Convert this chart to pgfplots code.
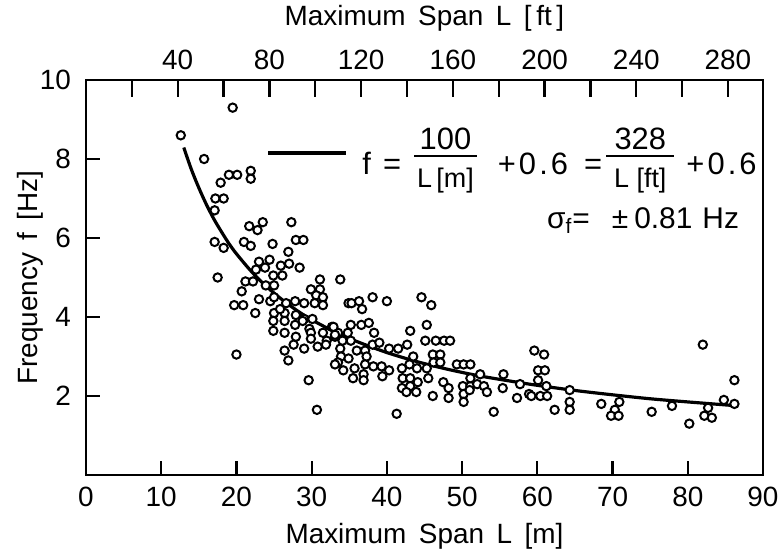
\documentclass[border=0pt]{standalone}
\usepackage{amsmath}
\usepackage{fontspec}
\setmainfont{Liberation Sans}
\usepackage{pgfplots}
\pgfplotsset{compat=1.18}

\newcommand{\bigf}{\fontsize{14}{16}\selectfont}
\newcommand{\legf}{\fontsize{15.5}{17}\selectfont}
\newcommand{\midf}{\fontsize{15.5}{17}\selectfont\addfontfeatures{LetterSpace=10}}
\newcommand{\denf}{\fontsize{13.5}{15}\selectfont}
\newcommand{\gap}{\hspace{0.45em}}
% fraction with numerator over a thick bar and a smaller denominator
\newcommand{\fr}[3][1.5bp]{\raisebox{3.5bp}{$\vcenter{\hbox{\renewcommand{\arraystretch}{0}\setlength{\arrayrulewidth}{1.3pt}%
  \begin{tabular}{@{\hspace{#1}}c@{\hspace{#1}}}\rule[-2.5bp]{0pt}{0pt}#2\\\hline
  \rule{0pt}{15bp}\denf #3\end{tabular}}}$}}

\begin{document}
\begin{tikzpicture}
% top axis in feet (ticks only)
\begin{axis}[
    scale only axis,
    width=338.5bp, height=197.5bp,
    xmin=0, xmax=295.28, ymin=0, ymax=10,
    axis x line*=top, axis y line=none,
    axis line style={line width=1.2pt, -},
    tick align=inside,
    xtick={40,80,...,280},
    minor xtick={20,60,...,260},
    major tick length=8.5bp, minor tick length=8.5bp,
    every tick/.style={black, line width=1.1pt},
    minor tick style={black, line width=1.1pt},
    xlabel={Maximum\gap Span\gap L\gap [\,ft\,]},
    xlabel style={at={(axis description cs:0.5,1)}, anchor=center, yshift=31bp},
    xticklabel shift=1.5bp,
    label style={font=\bigf},
    tick label style={font=\bigf},
    /pgf/number format/assume math mode=true,
]
\end{axis}
% main axis in metres
\begin{axis}[
    name=main,
    scale only axis,
    width=338.5bp, height=197.5bp,
    xmin=0, xmax=90, ymin=0, ymax=10,
    axis line style={line width=1.2pt},
    tick align=inside,
    xtick pos=bottom, ytick pos=left,
    xtick={0,10,...,90},
    ytick={2,4,6,8,10},
    major tick length=7bp,
    every tick/.style={black, line width=1.1pt},
    xlabel={Maximum\gap Span\gap L\gap [m]},
    ylabel={Frequency\gap f\gap [Hz]},
    xlabel style={at={(axis description cs:0.5,0)}, anchor=center, yshift=-30.5bp},
    ylabel style={at={(axis description cs:-0.0827,0.5)}, anchor=center},
    xticklabel shift=2.5bp,
    yticklabel shift=4bp,
    label style={font=\bigf},
    tick label style={font=\bigf},
    /pgf/number format/assume math mode=true,
    legend style={draw=none, fill=none, inner xsep=0pt, inner ysep=0pt,
        at={(axis description cs:0.266,0.815)}, anchor=west, font=\legf},
    legend cell align=left,
    legend image code/.code={\draw[line width=2pt] (0bp,0bp) -- (39bp,0bp);},
]

% measured points
\addplot[only marks, mark=*, mark size=2.1pt,
    mark options={fill=white, draw=black, line width=1pt}, forget plot]
coordinates {
(19.5,9.3) (12.6,8.6) (15.7,8.0) (19.0,7.6) (20.1,7.6)
(21.9,7.7) (21.9,7.5) (17.9,7.4) (17.2,7.0) (18.3,7.0)
(17.1,6.7) (21.7,6.3) (23.5,6.4) (22.8,6.2) (27.3,6.4)
(17.1,5.9) (18.3,5.75) (21.0,5.9) (21.9,5.8) (24.8,5.85)
(27.9,5.95) (28.9,5.95) (26.9,5.65) (23.0,5.4) (24.4,5.45)
(25.9,5.3) (27.0,5.35) (28.4,5.25) (22.6,5.2) (23.8,5.25)
(24.9,5.05) (26.1,5.05) (17.5,5.0) (21.2,4.9) (22.2,4.9)
(23.9,4.8) (25.0,4.8) (31.1,4.95) (33.8,4.95) (29.9,4.7)
(31.1,4.7) (20.7,4.65) (30.6,4.55) (31.5,4.5) (23.0,4.45)
(24.5,4.4) (25.0,4.5) (19.7,4.3) (20.9,4.3) (26.6,4.35)
(27.8,4.4) (29.0,4.35) (30.4,4.35) (31.5,4.3) (34.9,4.35)
(22.5,4.1) (25.0,4.1) (26.4,4.1) (25.8,4.2) (27.9,4.05)
(29.0,3.95) (30.1,3.95) (24.9,3.9) (26.4,3.9) (27.8,3.8)
(28.8,3.9) (29.7,3.7) (29.9,3.6) (31.5,3.6) (32.7,3.75)
(33.5,3.6) (34.8,3.6) (24.9,3.65) (26.4,3.6) (27.9,3.5)
(29.9,3.45) (32.0,3.4) (33.1,3.5) (27.6,3.3) (29.0,3.2)
(30.8,3.25) (31.9,3.3) (26.4,3.15) (26.9,2.9) (33.8,3.2)
(33.9,3.0) (33.5,2.85) (34.2,2.65) (33.1,2.8) (34.9,2.95)
(20.0,3.05) (29.6,2.4) (30.7,1.65)
(35.3,4.35) (36.3,4.4) (36.7,4.2) (38.1,4.5) (40.0,4.4)
(44.6,4.5) (45.9,4.3) (32.9,3.75) (35.2,3.8) (36.6,3.8)
(37.6,3.85) (38.3,3.6) (43.1,3.65) (45.3,3.8) (45.1,3.4)
(46.5,3.4) (47.6,3.4) (48.4,3.4) (33.1,3.55) (34.1,3.4)
(35.2,3.4) (38.1,3.3) (39.0,3.35) (36.0,3.15) (37.1,3.15)
(40.3,3.2) (41.5,3.2) (42.7,3.3) (43.5,3.0) (46.1,3.05)
(47.1,3.05) (46.2,2.85) (47.1,2.85) (37.3,3.0) (37.1,2.8)
(38.2,2.75) (39.3,2.75) (40.3,2.65) (39.4,2.5) (42.0,2.7)
(43.0,2.8) (44.0,2.7) (45.3,2.7) (45.5,2.45) (49.3,2.8)
(50.2,2.8) (51.1,2.8) (35.7,2.7) (35.5,2.45) (36.9,2.55)
(36.9,2.4) (42.1,2.45) (43.1,2.45) (44.1,2.35) (42.0,2.2)
(43.1,2.25) (43.9,2.1) (42.6,2.1) (47.5,2.35) (48.2,2.2)
(48.2,1.95) (46.1,2.0) (50.1,2.25) (51.1,2.25) (52.0,2.3)
(52.9,2.25) (50.2,2.05) (51.0,2.15) (50.2,1.85) (51.1,2.45)
(52.4,2.55) (53.3,2.1) (55.4,2.2) (55.5,2.55) (57.3,1.95)
(57.7,2.3) (58.9,2.05) (41.3,1.55) (54.2,1.6)
(59.6,3.15) (60.9,3.05) (60.1,2.65) (61.0,2.65) (60.1,2.4)
(59.2,2.0) (60.4,2.0) (61.3,2.0) (61.2,2.25) (62.3,1.65)
(64.3,2.15) (64.3,1.85) (64.3,1.65) (68.5,1.8) (70.9,1.85)
(70.3,1.65) (69.8,1.5) (70.8,1.5) (75.2,1.6) (77.9,1.75)
(80.2,1.3) (82.0,3.3) (82.2,1.5) (83.2,1.45) (82.7,1.7)
(84.8,1.9) (86.2,1.8) (86.2,2.4)
};

% fitted curve f = 100/L + 0.6
\addplot[black, line width=1.6pt, smooth, mark=none] coordinates {
(13,8.29) (14,7.74) (15,7.27) (16,6.85) (17,6.48) (18,6.16)
(19,5.86) (20,5.60) (22,5.15) (24,4.77) (26,4.45) (28,4.17)
(30,3.93) (33,3.63) (36,3.38) (40,3.10) (44,2.87) (48,2.68)
(52,2.52) (56,2.39) (60,2.27) (65,2.14) (70,2.03) (75,1.93)
(80,1.85) (86,1.76)
};
\addlegendentry{\hspace{5bp}f\hspace{6bp}=\hspace{6.5bp}\fr{100}{L\,[m]}\hspace{10.5bp}{\midf +0.6}\hspace{8bp}=\hspace{2bp}\fr[4bp]{328}{L\ [ft]}\hspace{6bp}{\midf +0.6}}

\node[anchor=east, font=\fontsize{15}{17}\selectfont] at (axis description cs:0.975,0.645)
    {σ\textsubscript{f}=\hspace{11bp}±\hspace{3bp}0.81\hspace{5bp}Hz};
\end{axis}
\pgfresetboundingbox
\path[use as bounding box] ([shift={(-43bp,-37.5bp)}]main.south west)
    rectangle ([shift={(10bp,40bp)}]main.north east);
\end{tikzpicture}
\end{document}
